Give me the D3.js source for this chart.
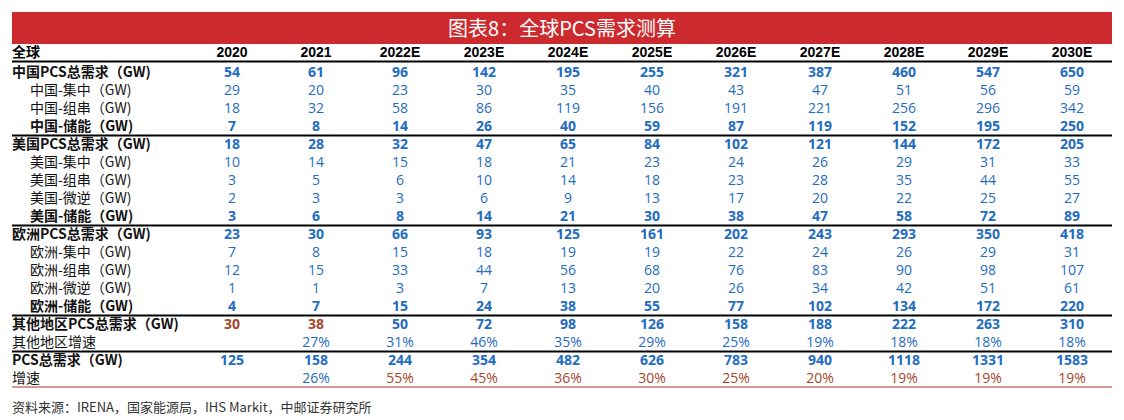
<!DOCTYPE html>
<html><head><meta charset="utf-8">
<script src="https://cdn.jsdelivr.net/npm/d3@7"></script>
<style>body{margin:0;background:#fff;font-family:"Noto Sans CJK SC","Noto Sans",sans-serif;}</style>
</head><body>
<script>
const years = ["2020","2021","2022E","2023E","2024E","2025E","2026E","2027E","2028E","2029E","2030E"];
const labels = ["中国PCS总需求（GW)","中国-集中（GW)","中国-组串（GW)","中国-储能（GW)",
  "美国PCS总需求（GW)","美国-集中（GW)","美国-组串（GW)","美国-微逆（GW)","美国-储能（GW)",
  "欧洲PCS总需求（GW)","欧洲-集中（GW)","欧洲-组串（GW)","欧洲-微逆（GW)","欧洲-储能（GW)",
  "其他地区PCS总需求（GW)","其他地区增速","PCS总需求（GW)","增速"];
const cnTotal = [54,61,96,142,195,255,321,387,460,547,650];
const cnCentral = [29,20,23,30,35,40,43,47,51,56,59];
const cnString = [18,32,58,86,119,156,191,221,256,296,342];
const cnStorage = [7,8,14,26,40,59,87,119,152,195,250];
const usTotal = [18,28,32,47,65,84,102,121,144,172,205];
const usCentral = [10,14,15,18,21,23,24,26,29,31,33];
const usString = [3,5,6,10,14,18,23,28,35,44,55];
const usMicro = [2,3,3,6,9,13,17,20,22,25,27];
const usStorage = [3,6,8,14,21,30,38,47,58,72,89];
const euTotal = [23,30,66,93,125,161,202,243,293,350,418];
const euCentral = [7,8,15,18,19,19,22,24,26,29,31];
const euString = [12,15,33,44,56,68,76,83,90,98,107];
const euMicro = [1,1,3,7,13,20,26,34,42,51,61];
const euStorage = [4,7,15,24,38,55,77,102,134,172,220];
const otherTotal = [30,38,50,72,98,126,158,188,222,263,310];
const otherGrowth = ["","27%","31%","46%","35%","29%","25%","19%","18%","18%","18%"];
const allTotal = [125,158,244,354,482,626,783,940,1118,1331,1583];
const allGrowth = ["","26%","55%","45%","36%","30%","25%","20%","19%","19%","19%"];

const rows = [cnTotal,cnCentral,cnString,cnStorage,usTotal,usCentral,usString,usMicro,usStorage,
  euTotal,euCentral,euString,euMicro,euStorage,otherTotal,otherGrowth,allTotal,allGrowth];
const boldRows = new Set([0,3,4,8,9,13,14,16]);
const indentRows = new Set([1,2,3,5,6,7,8,10,11,12,13]);
const linesAfter = [3,8,13,15];

const W=1124,H=420, BLUE="#1f6cc0", BROWN="#a6472b";
const svg=d3.select("body").append("svg").attr("width",W).attr("height",H);
const x=d3.scalePoint().domain(years).range([232,1072]);
const y=d3.scaleLinear().domain([0,1]).range([72,90]);

svg.append("rect").attr("x",12).attr("y",12).attr("width",1100).attr("height",32).attr("fill","#cc2a2e");
svg.append("text").attr("x",W/2).attr("y",36).attr("text-anchor","middle").attr("fill","#fff")
  .attr("font-size",20).text("图表8：全球PCS需求测算");

svg.append("text").attr("x",12).attr("y",57).attr("font-size",14).attr("font-weight","bold").text("全球");
svg.selectAll(".yr").data(years).join("text").attr("x",d=>x(d)).attr("y",57).attr("text-anchor","middle")
  .attr("font-family","Liberation Sans, sans-serif").attr("font-size",14).attr("font-weight","bold").text(d=>d);
svg.append("line").attr("x1",12).attr("x2",1112).attr("y1",61.5).attr("y2",61.5).attr("stroke","#000").attr("stroke-width",2);

rows.forEach((r,i)=>{
  const yy=y(i)+5;
  const bold=boldRows.has(i);
  svg.append("text").attr("x",indentRows.has(i)?30:12).attr("y",yy).attr("font-size",14)
    .attr("font-weight",bold?"bold":"normal").attr("fill","#111").text(labels[i]);
  svg.selectAll(null).data(r).join("text").attr("x",(d,j)=>x(years[j])).attr("y",yy)
    .attr("text-anchor","middle").attr("font-family","Open Sans, sans-serif").attr("font-size",14)
    .attr("font-weight",bold||i===16?"bold":"normal")
    .attr("fill",(d,j)=>(i===14&&j<2)||(i===17&&j>=2)?BROWN:BLUE).text(d=>d);
});
linesAfter.forEach(i=>{
  const ly=y(i)+9.5;
  svg.append("line").attr("x1",12).attr("x2",1112).attr("y1",ly).attr("y2",ly).attr("stroke","#000").attr("stroke-width",2);
});
svg.append("line").attr("x1",12).attr("x2",1112).attr("y1",y(17)+9).attr("y2",y(17)+9).attr("stroke","#b03030").attr("stroke-width",1);
svg.append("text").attr("x",12).attr("y",412).attr("font-size",13).attr("fill","#333")
  .text("资料来源：IRENA，国家能源局，IHS Markit，中邮证券研究所");
</script>
</body></html>
